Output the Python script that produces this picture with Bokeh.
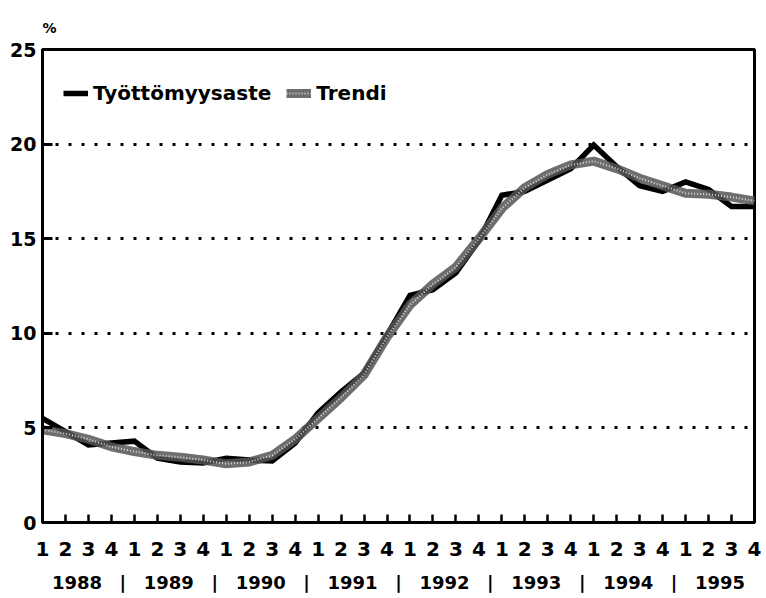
from bokeh.plotting import figure
from bokeh.models import Range1d, FixedTicker, LinearAxis, Legend, LegendItem
from bokeh.embed import file_html
from bokeh.resources import INLINE

# ---- data ----
years = ["1988", "1989", "1990", "1991", "1992", "1993", "1994", "1995"]
quarter_labels = ["1", "2", "3", "4"]
tyottomyysaste = [5.5, 4.8, 4.1, 4.2, 4.3, 3.4, 3.2, 3.15,
                  3.4, 3.3, 3.25, 4.2, 5.8, 6.9, 7.9, 9.9,
                  12.0, 12.3, 13.2, 14.9, 17.3, 17.5, 18.1, 18.7,
                  19.95, 18.8, 17.8, 17.5, 18.0, 17.6, 16.7, 16.7]
trendi = [4.9, 4.7, 4.4, 4.0, 3.75, 3.55, 3.45, 3.3,
          3.1, 3.2, 3.55, 4.4, 5.5, 6.6, 7.8, 9.8,
          11.5, 12.6, 13.5, 15.0, 16.6, 17.7, 18.4, 18.9,
          19.1, 18.7, 18.2, 17.8, 17.4, 17.35, 17.2, 17.0]
y_ticks = [0, 5, 10, 15, 20, 25]
grid_ticks = [5, 10, 15, 20]

n = len(tyottomyysaste)
xs = list(range(n))

FONT = "DejaVu Sans"
INK = "black"

p = figure(width=762, height=596, output_backend="svg", toolbar_location=None,
           x_range=Range1d(0, n - 1), y_range=Range1d(0, 25),
           min_border_left=42, min_border_right=8, min_border_top=49,
           min_border_bottom=74)

p.title.text = "%"
p.title.align = "left"
p.title.text_font = FONT
p.title.text_font_size = "14px"
p.title.text_font_style = "bold"
p.title.text_color = INK
p.title.standoff = 27

p.outline_line_color = "black"
p.outline_line_width = 3
p.outline_line_alpha = 1

# lines
r_main = p.line(xs, tyottomyysaste, line_color="black", line_width=5.5, line_join="miter")
r_trend = p.line(xs, trendi, line_color="#555555", line_alpha=0.85, line_width=9, line_join="round")
r_speck = p.line(xs, trendi, line_color="white", line_alpha=0.75, line_width=2, line_dash="1 2")

# grid
p.xgrid.visible = False
p.ygrid.ticker = FixedTicker(ticks=grid_ticks)
p.ygrid.grid_line_color = "black"
p.ygrid.grid_line_width = 3
p.ygrid.grid_line_dash = "3 10"

# y axis
ya = p.yaxis[0]
ya.ticker = FixedTicker(ticks=y_ticks)
ya.major_tick_in = 10
ya.major_tick_out = 0
ya.minor_tick_line_color = None
ya.axis_line_width = 3
ya.major_tick_line_width = 3
ya.major_label_text_font = FONT
ya.major_label_text_font_style = "bold"
ya.major_label_text_font_size = "19px"
ya.major_label_text_color = INK
ya.major_label_standoff = 6

# x axis (quarters)
xa = p.xaxis[0]
xa.ticker = FixedTicker(ticks=xs)
xa.major_label_overrides = {i: quarter_labels[i % 4] for i in xs}
xa.major_tick_in = 8
xa.major_tick_out = 0
xa.minor_tick_line_color = None
xa.axis_line_width = 3
xa.major_tick_line_width = 2.5
xa.major_label_text_font = FONT
xa.major_label_text_font_style = "bold"
xa.major_label_text_font_size = "20px"
xa.major_label_text_color = INK
xa.major_label_standoff = 19

# year axis
year_pos = [4 * k + 1.5 for k in range(len(years))]
sep_pos = [4 * k + 3.5 for k in range(len(years) - 1)]
overrides = {pos: yr for pos, yr in zip(year_pos, years)}
overrides.update({pos: "|" for pos in sep_pos})
ya2 = LinearAxis(ticker=FixedTicker(ticks=sorted(year_pos + sep_pos)),
                 major_label_overrides=overrides)
ya2.axis_line_color = None
ya2.major_tick_line_color = None
ya2.minor_tick_line_color = None
ya2.major_label_text_font = FONT
ya2.major_label_text_font_style = "bold"
ya2.major_label_text_font_size = "18px"
ya2.major_label_text_color = INK
ya2.major_label_standoff = 7
p.add_layout(ya2, "below")

legend = Legend(items=[LegendItem(label="Työttömyysaste", renderers=[r_main]),
                       LegendItem(label="Trendi", renderers=[r_trend, r_speck])],
                orientation="horizontal", location=(21, 417))
legend.border_line_alpha = 0
legend.background_fill_alpha = 0
legend.padding = 0
legend.margin = 0
legend.spacing = 15
legend.glyph_width = 25
legend.glyph_height = 20
legend.label_standoff = 5
legend.label_text_font = FONT
legend.label_text_font_style = "bold"
legend.label_text_font_size = "20px"
legend.label_text_color = INK
p.add_layout(legend, "center")

open("out.html", "w").write(file_html(p, INLINE))
